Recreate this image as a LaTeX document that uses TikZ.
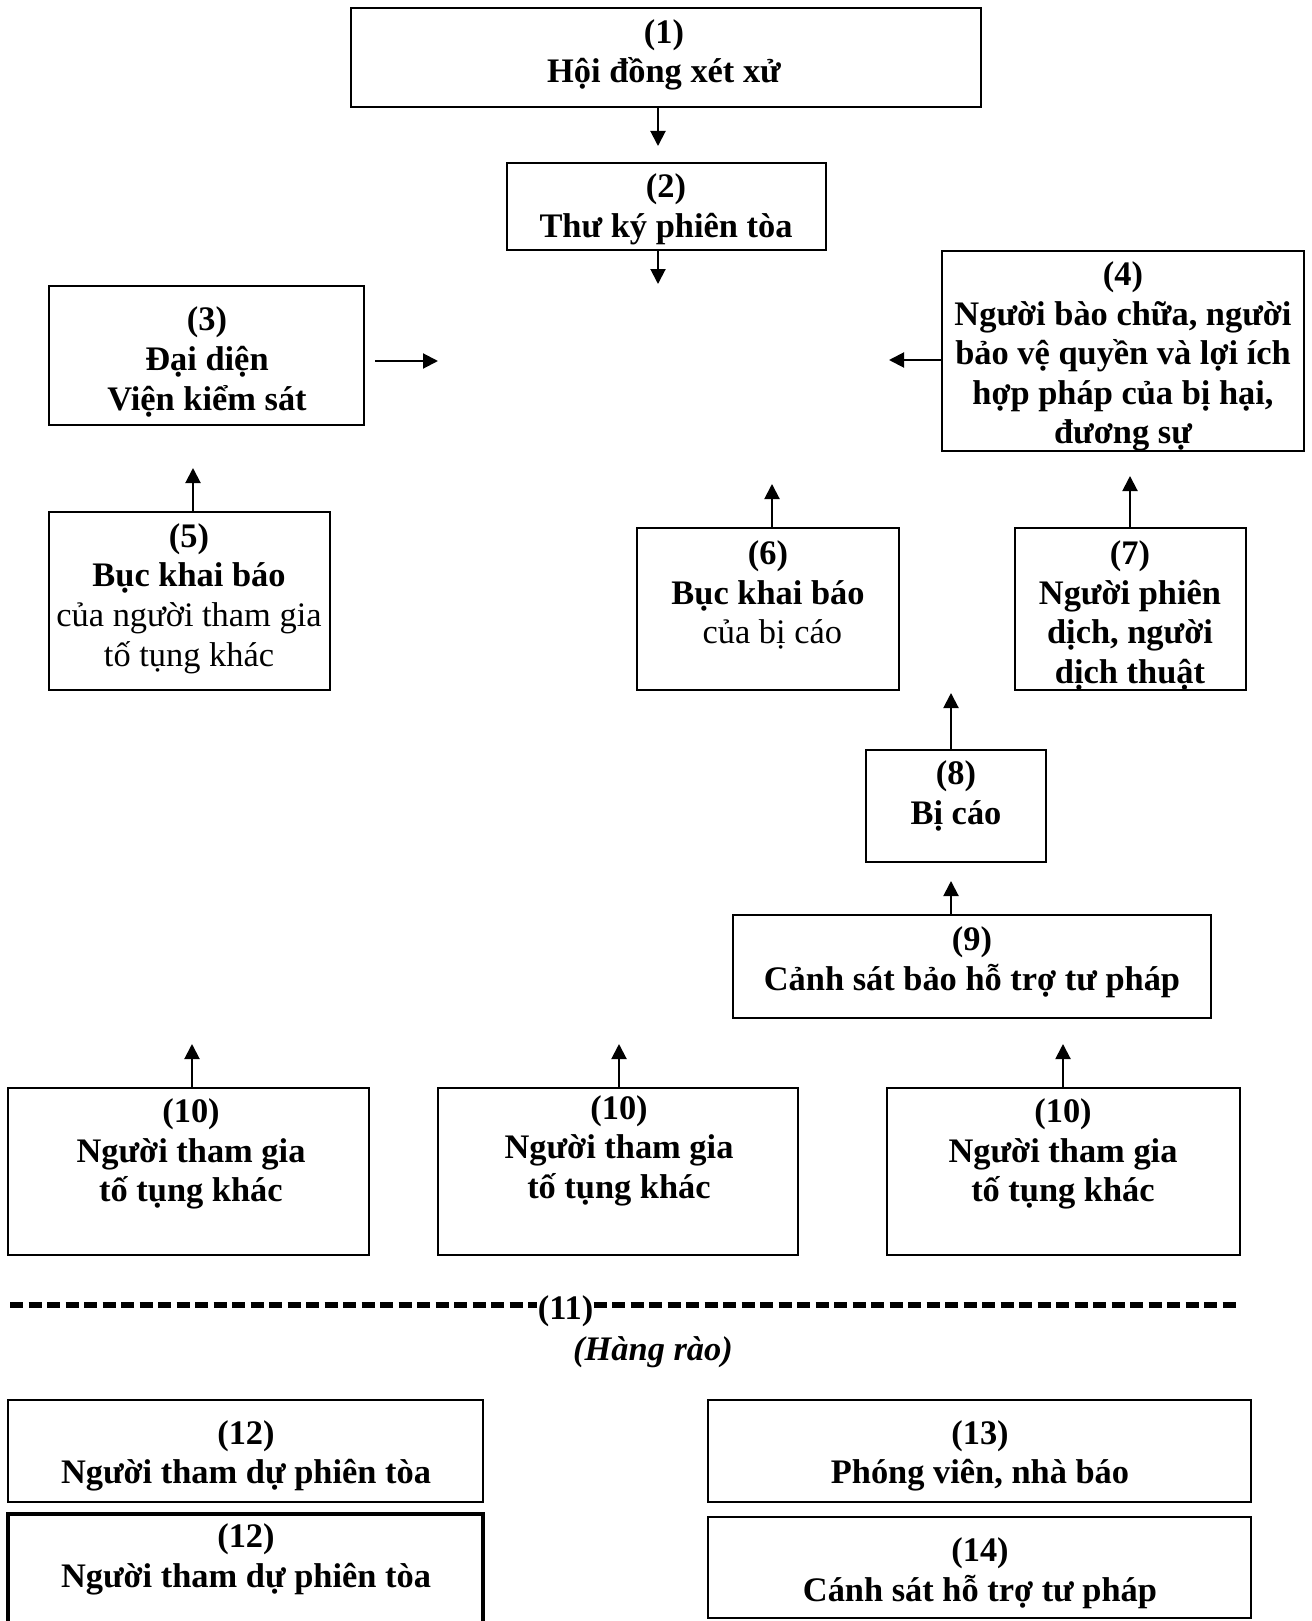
\documentclass[tikz,border=0pt]{standalone}
\usepackage{fontspec}
\setmainfont{Liberation Serif}
\usetikzlibrary{arrows.meta}
\tikzset{
  box/.style={draw, line width=1pt, rectangle, inner sep=0pt},
  thickbox/.style={box, line width=2.2pt},
  txt/.style={align=center, inner sep=0pt, yshift=-1.5pt, font=\bfseries\fontsize{17.2}{19.8}\selectfont},
  arr/.style={line width=1pt, -{Triangle[length=7.5pt,width=7.5pt]}},
  fence/.style={line width=3pt, dash pattern=on 6.5pt off 2.75pt}
}
\begin{document}
\begin{tikzpicture}[x=0.5pt,y=-0.5pt]
\useasboundingbox (0,0) rectangle (1311,1621);
% boxes
\node[box, minimum width=315pt, minimum height=49.5pt] (b1) at (666,57.5) {};
\node[box, minimum width=159.5pt, minimum height=43.5pt] (b2) at (666.5,206.5) {};
\node[box, minimum width=157.5pt, minimum height=69.5pt] (b3) at (206.5,355.5) {};
\node[box, minimum width=181pt, minimum height=100pt] (b4) at (1123,351) {};
\node[box, minimum width=140.5pt, minimum height=89pt] (b5) at (189.5,601) {};
\node[box, minimum width=131pt, minimum height=81pt] (b6) at (768,609) {};
\node[box, minimum width=115.5pt, minimum height=81pt] (b7) at (1130.5,609) {};
\node[box, minimum width=90pt, minimum height=56pt] (b8) at (956,806) {};
\node[box, minimum width=239pt, minimum height=51.5pt] (b9) at (972,966.5) {};
\node[box, minimum width=180.5pt, minimum height=83.5pt] (b10a) at (188.5,1171.5) {};
\node[box, minimum width=180pt, minimum height=83.5pt] (b10b) at (618,1171.5) {};
\node[box, minimum width=176.5pt, minimum height=83.5pt] (b10c) at (1063.5,1171.5) {};
\node[box, line width=1.3pt, minimum width=237.5pt, minimum height=51pt] (b12a) at (245.5,1451) {};
\node[thickbox, minimum width=237.5pt, minimum height=63pt] (b12b) at (245.5,1577) {};
\node[box, line width=1.3pt, minimum width=271.5pt, minimum height=51pt] (b13) at (979.5,1451) {};
\node[box, line width=1.3pt, minimum width=271.5pt, minimum height=50.5pt] (b14) at (979.5,1567.5) {};
% texts
\node[txt] (t1) at (664,52) {(1)\\Hội đồng xét xử};
\node[txt] (t2) at (666,206.5) {(2)\\Thư ký phiên tòa};
\node[txt] (t3) at (207,359) {(3)\\Đại diện\\Viện kiểm sát};
\node[txt] (t4) at (1123,353.5) {(4)\\Người bào chữa, người\\bảo vệ quyền và lợi ích\\hợp pháp của bị hại,\\đương sự};
\node[txt] (t5) at (189,595.5) {(5)\\Bục khai báo\\{\mdseries của người tham gia}\\{\mdseries tố tụng khác}};
\node[txt] (t6) at (768,592) {(6)\\Bục khai báo\\{\mdseries\ của bị cáo}};
\node[txt] (t7) at (1130,612.5) {(7)\\Người phiên\\dịch, người\\dịch thuật};
\node[txt] (t8) at (956,793) {(8)\\Bị cáo};
\node[txt] (t9) at (972,959.5) {(9)\\Cảnh sát bảo hỗ trợ tư pháp};
\node[txt] (t10a) at (191,1151) {(10)\\Người tham gia\\tố tụng khác};
\node[txt] (t10b) at (619,1147.5) {(10)\\Người tham gia\\tố tụng khác};
\node[txt] (t10c) at (1063,1151) {(10)\\Người tham gia\\tố tụng khác};
\node[txt] (t11) at (565.5,1308) {(11)};
\node[txt] (t11b) at (653,1349) {\itshape (Hàng rào)};
\node[txt] (t12a) at (246,1453) {(12)\\Người tham dự phiên tòa};
\node[txt] (t12b) at (246,1556.5) {(12)\\Người tham dự phiên tòa};
\node[txt] (t13) at (980,1453) {(13)\\Phóng viên, nhà báo};
\node[txt] (t14) at (980,1570) {(14)\\Cánh sát hỗ trợ tư pháp};
% arrow end points
\coordinate (a1e) at (658,146);
\coordinate (a2e) at (658,284);
\coordinate (a3s) at (375,361);
\coordinate (a3e) at (438,361);
\coordinate (a4e) at (889,360);
\coordinate (a5e) at (193,468);
\coordinate (a6e) at (772,484);
\coordinate (a7e) at (1130,476);
\coordinate (a8e) at (951,693);
\coordinate (a9e) at (951,881);
\coordinate (a10ae) at (192,1044);
\coordinate (a10be) at (619,1044);
\coordinate (a10ce) at (1063,1044);
\coordinate (f1) at (10,1305);
\coordinate (f2) at (1238,1305);
% connectors
\draw[arr] (a1e |- b1.south) -- (a1e);
\draw[arr] (a2e |- b2.south) -- (a2e);
\draw[arr] (a3s) -- (a3e);
\draw[arr] (b4.west |- a4e) -- (a4e);
\draw[arr] (a5e |- b5.north) -- (a5e);
\draw[arr] (a6e |- b6.north) -- (a6e);
\draw[arr] (a7e |- b7.north) -- (a7e);
\draw[arr] (a8e |- b8.north) -- (a8e);
\draw[arr] (a9e |- b9.north) -- (a9e);
\draw[arr] (a10ae |- b10a.north) -- (a10ae);
\draw[arr] (a10be |- b10b.north) -- (a10be);
\draw[arr] (a10ce |- b10c.north) -- (a10ce);
\draw[fence] (f1) -- (f1 -| t11.west);
\draw[fence] (f2 -| t11.east) -- (f2);
\end{tikzpicture}
\end{document}
